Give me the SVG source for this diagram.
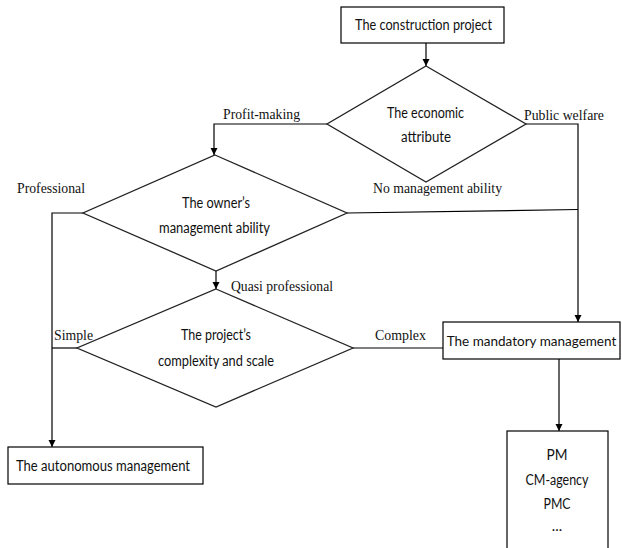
<svg xmlns="http://www.w3.org/2000/svg" width="622" height="548" viewBox="0 0 622 548">
<style>
.box{fill:#fff;stroke:#000;stroke-width:1.2}
.dia{fill:#fff;stroke:#222;stroke-width:1.3}
.ln{fill:none;stroke:#000;stroke-width:1.2}
.t{font-family:Lato,"Open Sans","Liberation Sans",sans-serif;font-size:14.5px;fill:#111;text-anchor:middle}
.l{font-family:"Liberation Serif","DejaVu Serif",serif;font-size:15px;fill:#111}
</style>
<defs>
<marker id="ah" viewBox="0 0 10 10" refX="10" refY="5" markerWidth="7" markerHeight="9" markerUnits="userSpaceOnUse" orient="auto">
<path d="M0,0 L10,5 L0,10 Z" fill="#000"/>
</marker>
</defs>
<rect width="622" height="548" fill="#fff"/>
<g id="connectors">
<line class="ln" x1="426" y1="43" x2="426" y2="66" marker-end="url(#ah)"/>
<polyline class="ln" points="327,124 214,124 214,155" marker-end="url(#ah)"/>
<polyline class="ln" points="526,124 578,124 578,322" marker-end="url(#ah)"/>
<line class="ln" x1="347" y1="213" x2="578" y2="209.5"/>
<polyline class="ln" points="83,213 52,213 52,447" marker-end="url(#ah)"/>
<line class="ln" x1="216" y1="271" x2="216" y2="289" marker-end="url(#ah)"/>
<line class="ln" x1="77" y1="348" x2="52" y2="348"/>
<line class="ln" x1="353" y1="348" x2="443" y2="348"/>
<line class="ln" x1="559" y1="359" x2="559" y2="431" marker-end="url(#ah)"/>
<text class="l" x="223" y="119" textLength="77" lengthAdjust="spacingAndGlyphs">Profit-making</text>
<text class="l" x="524" y="120" textLength="80" lengthAdjust="spacingAndGlyphs">Public welfare</text>
<text class="l" x="17" y="193" textLength="68" lengthAdjust="spacingAndGlyphs">Professional</text>
<text class="l" x="373" y="193" textLength="129" lengthAdjust="spacingAndGlyphs">No management ability</text>
<text class="l" x="231" y="291" textLength="102" lengthAdjust="spacingAndGlyphs">Quasi professional</text>
<text class="l" x="54" y="340" textLength="39" lengthAdjust="spacingAndGlyphs">Simple</text>
<text class="l" x="375" y="340" textLength="51" lengthAdjust="spacingAndGlyphs">Complex</text>
</g>
<g id="construction-project">
<rect class="box" x="341" y="7" width="163" height="36"/>
<text class="t" x="423.5" y="30" textLength="137" lengthAdjust="spacingAndGlyphs">The construction project</text>
</g>
<g id="economic-attribute">
<polygon class="dia" points="426,66 526,124 426,182 327,124"/>
<text class="t" x="425.5" y="118" textLength="77" lengthAdjust="spacingAndGlyphs">The economic</text>
<text class="t" x="426" y="142" textLength="50" lengthAdjust="spacingAndGlyphs">attribute</text>
</g>
<g id="owner-ability">
<polygon class="dia" points="215,155 347,213 216,271 83,213"/>
<text class="t" x="216" y="208" textLength="68" lengthAdjust="spacingAndGlyphs">The owner’s</text>
<text class="t" x="214.5" y="233" textLength="111" lengthAdjust="spacingAndGlyphs">management ability</text>
</g>
<g id="complexity-scale">
<polygon class="dia" points="216,289 353,348 216,407 77,348"/>
<text class="t" x="216" y="340" textLength="70" lengthAdjust="spacingAndGlyphs">The project’s</text>
<text class="t" x="216" y="366" textLength="116" lengthAdjust="spacingAndGlyphs">complexity and scale</text>
</g>
<g id="mandatory-management">
<rect class="box" x="443" y="322" width="177" height="37"/>
<text class="t" x="531.5" y="346" style="font-size:13.5px">The mandatory management</text>
</g>
<g id="autonomous-management">
<rect class="box" x="8" y="447" width="195" height="37"/>
<text class="t" x="103" y="471" textLength="174" lengthAdjust="spacingAndGlyphs">The autonomous management</text>
</g>
<g id="options">
<rect class="box" x="507" y="431" width="101" height="130"/>
<text class="t" x="557" y="460" textLength="21" lengthAdjust="spacingAndGlyphs">PM</text>
<text class="t" x="557" y="485" textLength="63" lengthAdjust="spacingAndGlyphs">CM-agency</text>
<text class="t" x="557" y="509" textLength="27" lengthAdjust="spacingAndGlyphs">PMC</text>
<text class="t" x="557" y="531">...</text>
</g>
</svg>
